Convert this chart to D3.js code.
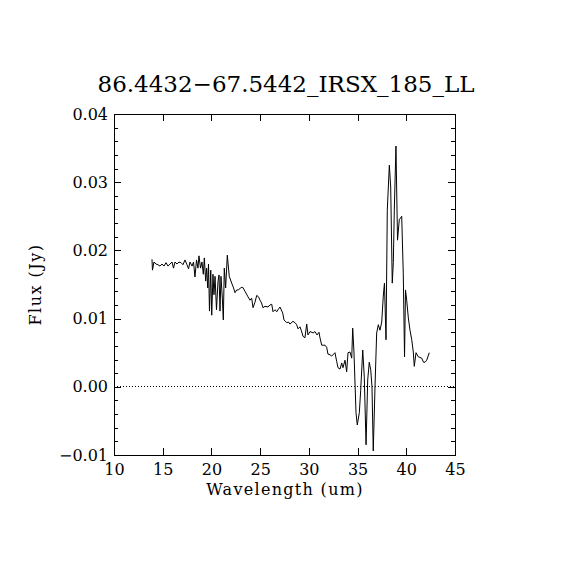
<!DOCTYPE html>
<html>
<head>
<meta charset="utf-8">
<script src="https://cdn.jsdelivr.net/npm/d3@7"></script>
<style>
  body { margin: 0; background: #fff; }
  svg text { font-family: "DejaVu Serif", "Liberation Serif", serif; fill: #000; }
</style>
</head>
<body>
<svg id="chart"></svg>
<script>
const title = "86.4432\u221267.5442_IRSX_185_LL";
const xLabel = "Wavelength (um)";
const yLabel = "Flux (Jy)";

// wavelength (um)
const wave = [
  13.90, 13.95, 14.10, 14.31, 14.51, 14.72, 14.93, 15.13, 15.34, 15.54,
  15.75, 15.95, 16.11, 16.26, 16.47, 16.67, 16.88, 17.08, 17.29, 17.49,
  17.65, 17.80, 18.01, 18.16, 18.31, 18.47, 18.62, 18.72, 18.88, 19.03,
  19.17, 19.27, 19.41, 19.51, 19.62, 19.70, 19.80, 19.93, 20.03, 20.16,
  20.26, 20.37, 20.52, 20.67, 20.78, 20.88, 20.98, 21.12, 21.22, 21.32,
  21.46, 21.63, 21.83, 22.08, 22.27, 22.42, 22.59, 22.78, 22.98, 23.21,
  23.45, 23.60, 23.75, 23.96, 24.13, 24.27, 24.47, 24.65, 24.83, 24.99,
  25.14, 25.29, 25.50, 25.81, 26.01, 26.19, 26.32, 26.53, 26.70, 26.88,
  27.04, 27.32, 27.45, 27.73, 27.91, 28.06, 28.37, 28.58, 28.75, 28.89,
  29.09, 29.24, 29.40, 29.60, 29.78, 29.91, 30.12, 30.43, 30.63, 30.84,
  31.04, 31.14, 31.32, 31.50, 31.66, 31.83, 31.96, 32.17, 32.34, 32.68,
  32.86, 32.99, 33.20, 33.37, 33.50, 33.71, 33.88, 34.02, 34.22, 34.40,
  34.50, 34.63, 34.84, 34.97, 35.18, 35.32, 35.53, 35.69, 35.87, 36.04,
  36.20, 36.35, 36.48, 36.61, 36.79, 36.96, 37.13, 37.30, 37.48, 37.64,
  37.76, 37.92, 38.05, 38.26, 38.40, 38.56, 38.67, 38.77, 38.94, 39.10,
  39.28, 39.53, 39.69, 39.82, 39.92, 40.04, 40.21, 40.38, 40.56, 40.72,
  40.82, 41.00, 41.23, 41.58, 41.77, 41.92, 42.10, 42.36
];

// flux (Jy)
const flux = [
  0.0187, 0.0171, 0.0183, 0.0180, 0.0179, 0.0177, 0.0180, 0.0177, 0.0182, 0.0177,
  0.0180, 0.0183, 0.0174, 0.0183, 0.0180, 0.0183, 0.0182, 0.0179, 0.0186, 0.0179,
  0.0173, 0.0183, 0.0177, 0.0183, 0.0161, 0.0186, 0.0174, 0.0192, 0.0174, 0.0183,
  0.0165, 0.0189, 0.0155, 0.0174, 0.0145, 0.0180, 0.0111, 0.0171, 0.0105, 0.0165,
  0.0135, 0.0162, 0.0113, 0.0154, 0.0164, 0.0111, 0.0162, 0.0130, 0.0098, 0.0174,
  0.0145, 0.0193, 0.0162, 0.0152, 0.0145, 0.0138, 0.0142, 0.0142, 0.0145, 0.0146,
  0.0140, 0.0136, 0.0132, 0.0127, 0.0130, 0.0116, 0.0124, 0.0134, 0.0132, 0.0127,
  0.0123, 0.0116, 0.0118, 0.0117, 0.0120, 0.0121, 0.0110, 0.0113, 0.0110, 0.0114,
  0.0117, 0.0108, 0.0098, 0.0094, 0.0095, 0.0092, 0.0096, 0.0094, 0.0091, 0.0085,
  0.0088, 0.0082, 0.0074, 0.0072, 0.0092, 0.0076, 0.0081, 0.0079, 0.0081, 0.0076,
  0.0080, 0.0072, 0.0061, 0.0061, 0.0061, 0.0058, 0.0048, 0.0047, 0.0045, 0.0050,
  0.0037, 0.0028, 0.0026, 0.0035, 0.0028, 0.0039, 0.0022, 0.0050, 0.0051, 0.0042,
  0.0086, 0.0051, -0.0038, -0.0056, -0.0038, -0.0005, 0.0054, 0.0014, -0.0085, 0.0010,
  0.0036, 0.0025, 0.0000, -0.0094, 0.0000, 0.0079, 0.0091, 0.0083, 0.0095, 0.0133,
  0.0152, 0.0069, 0.0259, 0.0325, 0.0293, 0.0152, 0.0182, 0.0259, 0.0353, 0.0215,
  0.0245, 0.0250, 0.0167, 0.0044, 0.0142, 0.0127, 0.0101, 0.0083, 0.0069, 0.0051,
  0.0030, 0.0050, 0.0044, 0.0042, 0.0036, 0.0036, 0.0039, 0.0050
];

const xTicks = [10, 15, 20, 25, 30, 35, 40, 45];
const yTicks = [-0.01, 0.00, 0.01, 0.02, 0.03, 0.04];
const yMinorTicks = d3.range(-0.01, 0.0401, 0.002);

const width = 570;
const height = 570;
const plotLeft = 114, plotRight = 455, plotTop = 114, plotBottom = 455;
const majorLen = 7, minorLen = 4;

const svg = d3.select("#chart").attr("width", width).attr("height", height);

const xScale = d3.scaleLinear().domain([10, 45]).range([plotLeft, plotRight]);
const yScale = d3.scaleLinear().domain([-0.01, 0.04]).range([plotBottom, plotTop]);

const fmtY = d => d < 0 ? "\u2212" + d3.format(".2f")(-d) : d3.format(".2f")(d);

// bottom axis with labels, top axis without
svg.append("g")
  .attr("transform", "translate(0," + plotBottom + ")")
  .call(d3.axisBottom(xScale).tickValues(xTicks).tickSizeInner(-majorLen).tickSizeOuter(0)
    .tickFormat(d3.format("d")))
  .call(g => g.select(".domain").remove())
  .call(g => g.selectAll("text").attr("y", 9).style("font-size", "16px"));

svg.append("g")
  .attr("transform", "translate(0," + plotTop + ")")
  .call(d3.axisTop(xScale).tickValues(xTicks).tickSizeInner(-majorLen).tickSizeOuter(0).tickFormat(""))
  .call(g => g.select(".domain").remove());

// left axis: minor then major
svg.append("g")
  .attr("transform", "translate(" + plotLeft + ",0)")
  .call(d3.axisLeft(yScale).tickValues(yMinorTicks).tickSizeInner(-minorLen).tickSizeOuter(0).tickFormat(""))
  .call(g => g.select(".domain").remove());

svg.append("g")
  .attr("transform", "translate(" + plotLeft + ",0)")
  .call(d3.axisLeft(yScale).tickValues(yTicks).tickSizeInner(-majorLen).tickSizeOuter(0).tickFormat(fmtY))
  .call(g => g.select(".domain").remove())
  .call(g => g.selectAll("text").attr("x", -6).style("font-size", "16px"));

// right axis
svg.append("g")
  .attr("transform", "translate(" + plotRight + ",0)")
  .call(d3.axisRight(yScale).tickValues(yMinorTicks).tickSizeInner(-minorLen).tickSizeOuter(0).tickFormat(""))
  .call(g => g.select(".domain").remove());

svg.append("g")
  .attr("transform", "translate(" + plotRight + ",0)")
  .call(d3.axisRight(yScale).tickValues(yTicks).tickSizeInner(-majorLen).tickSizeOuter(0).tickFormat(""))
  .call(g => g.select(".domain").remove());

svg.selectAll(".tick line").attr("stroke", "#000").attr("shape-rendering", "crispEdges");

// frame
svg.append("rect")
  .attr("x", plotLeft)
  .attr("y", plotTop)
  .attr("width", plotRight - plotLeft)
  .attr("height", plotBottom - plotTop)
  .attr("fill", "none")
  .attr("stroke", "#000")
  .attr("shape-rendering", "crispEdges");

// zero line
svg.append("line")
  .attr("x1", xScale(10))
  .attr("x2", xScale(45))
  .attr("y1", yScale(0))
  .attr("y2", yScale(0))
  .attr("stroke", "#000")
  .attr("stroke-dasharray", "1,2")
  .attr("shape-rendering", "crispEdges");

// spectrum
const points = wave.map((w, i) => [w, flux[i]]);
const line = d3.line().x(d => xScale(d[0])).y(d => yScale(d[1]));

svg.append("path")
  .datum(points)
  .attr("d", line)
  .attr("fill", "none")
  .attr("stroke", "#000")
  .attr("stroke-width", 1);

// labels
svg.append("text")
  .attr("x", 286)
  .attr("y", 92)
  .attr("text-anchor", "middle")
  .style("font-size", "23px")
  .text(title);

svg.append("text")
  .attr("x", 285)
  .attr("y", 495)
  .attr("text-anchor", "middle")
  .style("font-size", "16px")
  .style("letter-spacing", "1.3px")
  .text(xLabel);

svg.append("text")
  .attr("transform", "translate(41," + (plotTop + plotBottom) / 2 + ") rotate(-90)")
  .attr("text-anchor", "middle")
  .style("font-size", "16px")
  .style("letter-spacing", "1.5px")
  .text(yLabel);
</script>
</body>
</html>
